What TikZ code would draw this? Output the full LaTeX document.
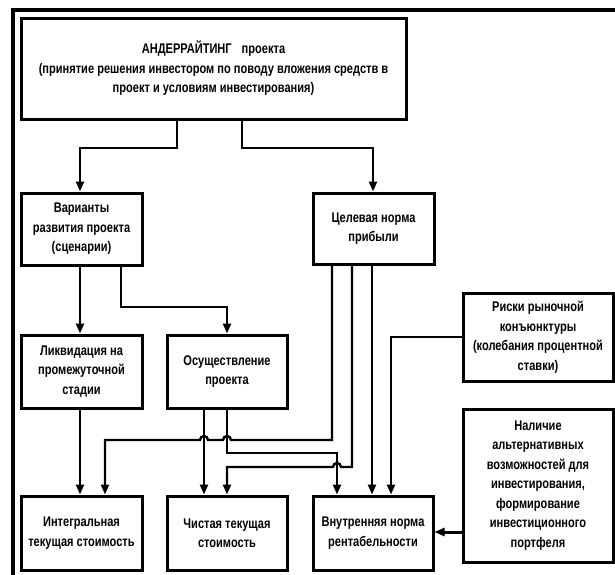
\documentclass[tikz,border=0pt]{standalone}
\usepackage{fontspec}
\setmainfont{Liberation Sans}[FakeStretch=0.79]
\usetikzlibrary{arrows.meta}
\tikzset{
  box/.style={draw, line width=3pt, rectangle, inner sep=0pt, align=center,
    font=\fontsize{14}{19.5}\selectfont\bfseries},
  conn/.style={line width=2.4pt, -{Triangle[length=10pt,width=8pt]}},
  frameline/.style={line width=4pt}
}
\newcommand{\boxat}[6]{% name, x1,y1,x2,y2, text
  \node[box, minimum width={#4-#2}, minimum height={#5-#3}] (#1) at ({(#2+#4)/2},{(#3+#5)/2}) {#6};}
\begin{document}
\begin{tikzpicture}[x=1pt,y=-1pt]
\useasboundingbox (0,0) rectangle (615,574);
\fill[white] (0,0) rectangle (615,574);
% frame
\draw[frameline] (13,576) -- (13,10) -- (617,10);
% boxes
\boxat{top}{21}{18}{406}{119}{АНДЕРРАЙТИНГ\hspace{10pt}проекта\\(принятие решения инвестором по поводу вложения средств в\\проект и условиям инвестирования)}
\boxat{var}{21}{193}{142}{265}{Варианты\\развития проекта\\(сценарии)}
\boxat{cel}{313}{193}{434}{264}{Целевая норма\\прибыли}
\boxat{liq}{21}{335}{142}{408}{Ликвидация на\\промежуточной\\стадии}
\boxat{osu}{167}{335}{287}{408}{Осуществление\\проекта}
\boxat{risk}{463}{293}{613}{381}{Риски рыночной\\конъюнктуры\\(колебания процентной\\ставки)}
\boxat{nal}{463}{409}{613}{562}{Наличие\\альтернативных\\возможностей для\\инвестирования,\\формирование\\инвестиционного\\портфеля}
\boxat{int}{21}{496}{142}{570}{Интегральная\\текущая стоимость}
\boxat{chi}{167}{496}{287}{570}{Чистая текущая\\стоимость}
\boxat{vnu}{313}{496}{433}{570}{Внутренняя норма\\рентабельности}
% connectors from top
\draw[conn] (top.south -| 177,0) -- (177,148) -| (var.north -| 80,0);
\draw[conn] (top.south -| 242,0) -- (242,148) -| (cel.north -| 373,0);
% from var
\draw[conn] (var.south -| 80,0) -- (liq.north -| 80,0);
\draw[conn] (var.south -| 121,0) |- (227,307) -- (osu.north -| 227,0);
% from liq
\draw[conn] (liq.south -| 80,0) -- (int.north -| 80,0);
% from osu
\draw[conn] (osu.south -| 204,0) -- (chi.north -| 204,0);
\draw[conn] (osu.south -| 227,0) |- (337,453) -- (vnu.north -| 337,0);
% from cel
\draw[conn] (cel.south -| 332,0) |- (231,440)
  arc[start angle=0,end angle=-180,radius=4] -- (208,440)
  arc[start angle=0,end angle=-180,radius=4] -| (int.north -| 105,0);
\draw[conn] (cel.south -| 352,0) |- (341,467)
  arc[start angle=0,end angle=-180,radius=4] -| (chi.north -| 227,0);
\draw[conn] (cel.south -| 372,0) -- (vnu.north -| 372,0);
% from risk
\draw[conn] (risk.west |- 0,337) -| (vnu.north -| 391,0);
% from nal
\draw[conn, line width=3pt] (nal.west |- 0,532) -- (vnu.east |- 0,532);
\end{tikzpicture}
\end{document}
